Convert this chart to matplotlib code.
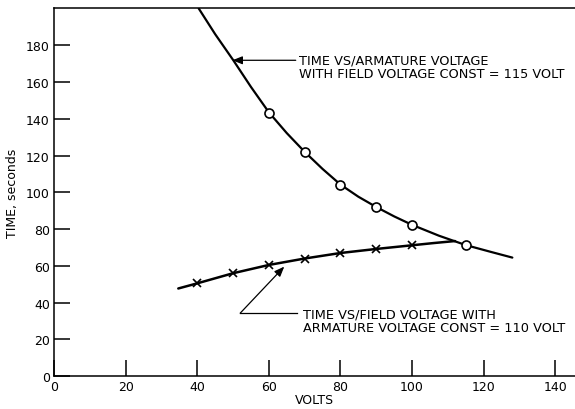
import matplotlib
matplotlib.use("Agg")
import matplotlib.pyplot as plt
import numpy as np

plt.rcParams['font.family'] = ['DejaVu Sans']

# measured points (circles) - time vs armature voltage, field const = 115 V
arm_volts = [60, 70, 80, 90, 100, 115]
arm_time = [143, 122, 104, 92, 82.3, 71.3]
# traced line of the armature curve
arm_line_x = [40.4, 45, 50, 55, 60, 65, 70, 75, 80, 85, 90, 95, 100, 107.5, 115, 122, 128]
arm_line_y = [200, 186, 172, 157.3, 143.5, 132.2, 122, 112.7, 104.2, 97.6, 92, 86.9, 82.3, 76.4, 71.3, 67.6, 64.5]

# measured points (crosses) - time vs field voltage, armature const = 110 V
field_volts = [40, 50, 60, 70, 80, 90, 100]
field_time = [50.5, 56, 60.5, 64, 67, 69.2, 71.2]
# traced line of the field curve
field_line_x = [34.7, 40, 50, 60, 70, 80, 90, 100, 106, 112]
field_line_y = [47.7, 50.5, 56, 60.5, 64, 67, 69.2, 71.2, 72.4, 73.5]

x_ticks = [0, 20, 40, 60, 80, 100, 120, 140]
y_ticks = [0, 20, 40, 60, 80, 100, 120, 140, 160, 180]

fig = plt.figure(figsize=(5.75, 4.1), dpi=100)
ax = fig.add_axes([0.094, 0.080, 0.906, 0.897])

ax.plot(arm_line_x, arm_line_y, color='black', lw=1.6, solid_capstyle='round')
ax.plot(arm_volts, arm_time, 'o', ms=6.5, mfc='white', mec='black', mew=1.2)
ax.plot(field_line_x, field_line_y, color='black', lw=1.8, solid_capstyle='round')
ax.plot(field_volts, field_time, 'x', ms=5.5, color='black', mew=1.2)

# labels with arrows
ax.annotate("", xy=(49.8, 171.8), xytext=(67.5, 171.8),
            arrowprops=dict(arrowstyle='-|>,head_length=0.5,head_width=0.2',
                            color='black', lw=0.9,
                            mutation_scale=12, shrinkA=0, shrinkB=0))
ax.text(68.3, 168.3, "TIME VS/ARMATURE VOLTAGE\nWITH FIELD VOLTAGE CONST = 115 VOLT",
        fontsize=9.3, va='center', ha='left', linespacing=1.05)

ax.plot([67.9, 52.0], [34.3, 34.3], color='black', lw=0.9)
ax.annotate("", xy=(64.3, 59.6), xytext=(52.0, 34.3),
            arrowprops=dict(arrowstyle='-|>,head_length=0.5,head_width=0.2',
                            color='black', lw=0.9,
                            mutation_scale=12, shrinkA=0, shrinkB=0))
ax.text(69.4, 30.4, "TIME VS/FIELD VOLTAGE WITH\nARMATURE VOLTAGE CONST = 110 VOLT",
        fontsize=9.3, va='center', ha='left', linespacing=1.05)

ax.set_xlim(0, 145.5)
ax.set_ylim(0, 200)
ax.set_xticks(x_ticks)
ax.set_yticks(y_ticks)
ax.tick_params(direction='in', length=11.5, width=1.1, labelsize=9, pad=3)
ax.spines['right'].set_visible(False)
for s in ['left', 'bottom', 'top']:
    ax.spines[s].set_linewidth(1.1)

ax.set_xlabel("VOLTS", fontsize=9, labelpad=0)
ax.set_ylabel("TIME, seconds", fontsize=9, labelpad=5)

fig.savefig("out.png", dpi=100)
